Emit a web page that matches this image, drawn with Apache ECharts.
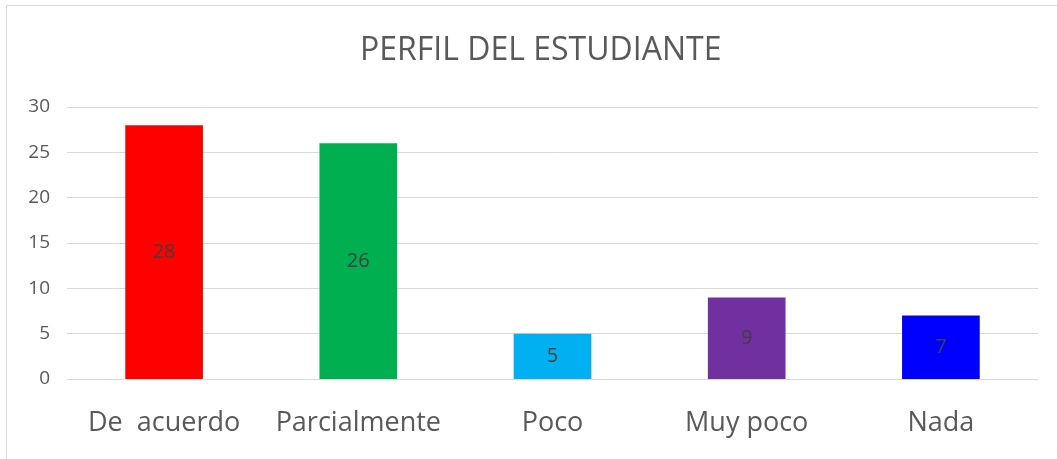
<!DOCTYPE html>
<html>
<head>
<meta charset="utf-8">
<script src="https://cdn.jsdelivr.net/npm/echarts@6/dist/echarts.min.js"></script>
<style>
  html, body { margin: 0; padding: 0; background: #fff; }
  #chart { width: 1057px; height: 459px; }
</style>
</head>
<body>
<div id="chart"></div>
<script>
var categories = ['De  acuerdo', 'Parcialmente', 'Poco', 'Muy poco', 'Nada'];
var values = [28, 26, 5, 9, 7];
var barColors = ['#ff0000', '#00b050', '#00b0f0', '#7030a0', '#0000ff'];

var myChart = echarts.init(document.getElementById('chart'));
var font = 'Open Sans';

var option = {
  animation: false,
  title: {
    text: 'PERFIL DEL ESTUDIANTE',
    left: 355,
    top: 30,
    textStyle: { color: '#595959', fontSize: 32, fontWeight: 'normal', fontFamily: font }
  },
  graphic: [{
    type: 'rect',
    shape: { x: 6.5, y: 5.5, width: 1100, height: 500 },
    style: { fill: 'none', stroke: '#d9d9d9', lineWidth: 1 },
    silent: true
  }],
  grid: { left: 67, right: 19, top: 107, bottom: 80 },
  xAxis: {
    type: 'category',
    data: categories,
    axisLine: { show: false },
    axisTick: { show: false },
    axisLabel: { color: '#595959', fontSize: 27, fontFamily: font, margin: 31, interval: 0 }
  },
  yAxis: {
    type: 'value',
    min: 0,
    max: 30,
    interval: 5,
    axisLine: { show: false },
    axisTick: { show: false },
    axisLabel: { color: '#595959', fontSize: 19, fontFamily: font, margin: 17 },
    splitLine: { lineStyle: { color: '#d9d9d9', width: 1 } }
  },
  series: [{
    type: 'bar',
    barWidth: '40%',
    data: values.map(function (v, i) {
      return { value: v, itemStyle: { color: barColors[i] } };
    }),
    label: {
      show: true,
      position: 'inside',
      color: '#404040',
      fontSize: 20,
      fontFamily: font
    }
  }]
};

myChart.setOption(option);
window.addEventListener('resize', function () { myChart.resize(); });
</script>
</body>
</html>
